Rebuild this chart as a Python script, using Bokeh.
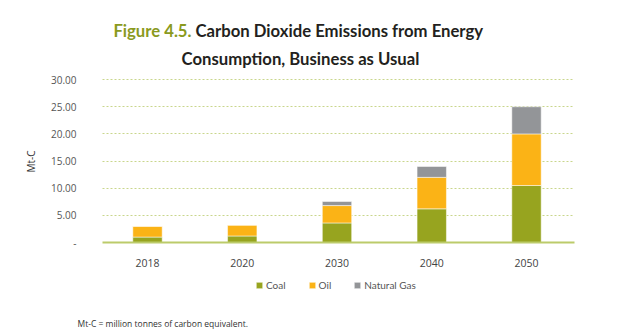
import math
from bokeh.plotting import figure
from bokeh.models import Label, Legend, LegendItem, Range1d, FixedTicker
from bokeh.embed import file_html
from bokeh.resources import INLINE

years = ["2018", "2020", "2030", "2040", "2050"]
coal = [1.0, 1.2, 3.6, 6.2, 10.5]
oil = [2.0, 2.0, 3.2, 5.8, 9.5]
gas = [0.0, 0.0, 0.75, 2.0, 5.0]
series = ["Coal", "Oil", "Natural Gas"]
colors = ["#97A41F", "#FBB316", "#939598"]
y_ticks = [0, 5, 10, 15, 20, 25, 30]
y_tick_labels = {0: "-", 5: "5.00", 10: "10.00", 15: "15.00", 20: "20.00", 25: "25.00", 30: "30.00"}

title_prefix = "Figure 4.5."
title_line1 = "Carbon Dioxide Emissions from Energy"
title_line2 = "Consumption, Business as Usual"
y_label = "Mt-C"
footnote = "Mt-C = million tonnes of carbon equivalent."

W, H = 624, 335
X0, PXX = 147.0, 94.75   # canvas x of first category centre, px per category
Y0, PXY = 242.0, 5.43    # canvas y of value 0, px per Mt-C

xs = list(range(len(years)))


def sx(X):
    return X


def sy(Y):
    return H - Y


p = figure(width=W, height=H,
           x_range=Range1d(-X0 / PXX, (W - X0) / PXX),
           y_range=Range1d(-(H - Y0) / PXY, Y0 / PXY),
           output_backend="svg", toolbar_location=None,
           min_border_left=0, min_border_right=0, min_border_top=0, min_border_bottom=0)
p.outline_line_color = None
p.background_fill_color = "white"

plot_left = -0.475
plot_right = 4.505

grid_color = "#C9D68C"
p.xgrid.grid_line_color = None
ygrid = p.ygrid[0]
if "cross_bounds" in ygrid.properties():
    ygrid.ticker = FixedTicker(ticks=y_ticks[1:])
    ygrid.cross_bounds = (plot_left, plot_right)
    ygrid.grid_line_color = grid_color
    ygrid.grid_line_dash = "2 2"
    ygrid.grid_line_width = 1
else:
    ygrid.grid_line_color = None
    gl = y_ticks[1:]
    p.segment(x0=[plot_left] * len(gl), x1=[plot_right] * len(gl), y0=gl, y1=gl,
              line_color=grid_color, line_dash="2 2", line_width=1)

data = {"x": xs, "Coal": coal, "Oil": oil, "Natural Gas": gas}
renderers = p.vbar_stack(series, x="x", width=0.31, color=colors, source=data,
                         line_color="white", line_width=0.5)

p.yaxis.fixed_location = plot_left
p.yaxis.ticker = FixedTicker(ticks=y_ticks)
p.yaxis.major_label_overrides = y_tick_labels
p.yaxis.axis_line_color = None
p.yaxis.major_tick_line_color = None
p.yaxis.minor_tick_line_color = None
p.yaxis.major_label_standoff = 20
p.yaxis.major_label_text_font = "Open Sans"
p.yaxis.major_label_text_font_size = "10px"
p.yaxis.major_label_text_color = "#555555"

p.xaxis.fixed_location = 0
p.xaxis.bounds = (plot_left, plot_right)
p.xaxis.ticker = FixedTicker(ticks=xs)
p.xaxis.major_label_overrides = {i: y for i, y in zip(xs, years)}
p.xaxis.axis_line_color = "#BCCB6A"
p.xaxis.axis_line_width = 2
p.xaxis.major_tick_line_color = None
p.xaxis.minor_tick_line_color = None
p.xaxis.major_label_standoff = 10
p.xaxis.major_label_text_font = "Open Sans"
p.xaxis.major_label_text_font_size = "10.5px"
p.xaxis.major_label_text_color = "#444444"

legend = Legend(items=[LegendItem(label=s, renderers=[r]) for s, r in zip(series, renderers)],
                orientation="horizontal", location=(sx(255), sy(291)),
                glyph_width=8, glyph_height=8, label_standoff=3, spacing=22, label_width=0,
                padding=0, margin=0, border_line_color=None, background_fill_alpha=0,
                label_text_font="Lato", label_text_font_size="10px",
                label_text_color="#555555", label_height=12)
p.add_layout(legend, "center")

tfont = "Lato"
tsize = "16.7px"
p.add_layout(Label(x=sx(191), y=sy(30), x_units="screen", y_units="screen", text=title_prefix,
                   text_align="right", text_baseline="middle", text_color="#8A9A1E",
                   text_font=tfont, text_font_style="bold", text_font_size=tsize))
p.add_layout(Label(x=sx(195), y=sy(30), x_units="screen", y_units="screen", text=title_line1,
                   text_align="left", text_baseline="middle", text_color="#231F20",
                   text_font=tfont, text_font_style="bold", text_font_size=tsize))
p.add_layout(Label(x=sx(300), y=sy(58.5), x_units="screen", y_units="screen", text=title_line2,
                   text_align="center", text_baseline="middle", text_color="#231F20",
                   text_font=tfont, text_font_style="bold", text_font_size=tsize))
p.add_layout(Label(x=sx(30), y=sy(161), x_units="screen", y_units="screen", text=y_label,
                   text_align="center", text_baseline="middle", angle=math.pi / 2,
                   text_color="#333333", text_font="Open Sans", text_font_size="10px"))
p.add_layout(Label(x=sx(77), y=sy(323), x_units="screen", y_units="screen", text=footnote,
                   text_align="left", text_baseline="middle", text_color="#333333",
                   text_font="Open Sans", text_font_size="8.5px"))

open("out.html", "w").write(file_html(p, INLINE))
